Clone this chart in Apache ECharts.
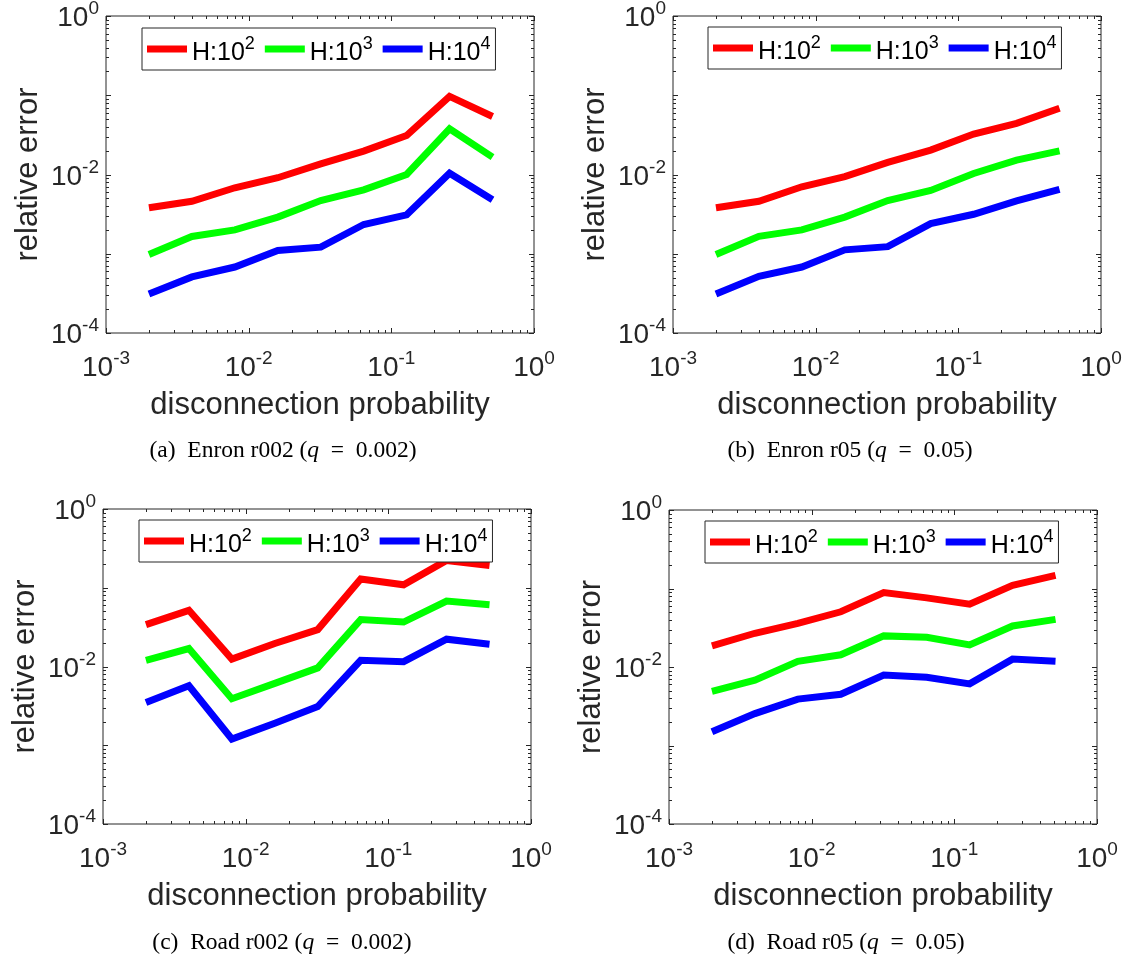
<!DOCTYPE html>
<html>
<head>
<meta charset="utf-8">
<title>relative error vs disconnection probability</title>
<script src="https://cdn.jsdelivr.net/npm/echarts@6/dist/echarts.min.js"></script>
<style>
  html, body { margin: 0; padding: 0; background: #ffffff; }
  #chart { width: 1128px; height: 962px; }
</style>
</head>
<body>
<div id="chart"></div>
<script>
// x values shared by every panel
const probability = [0.002, 0.004, 0.008, 0.016, 0.032, 0.064, 0.128, 0.256, 0.512];

const seriesNames = ['H:10^2', 'H:10^3', 'H:10^4'];
const seriesColors = ['#ff0000', '#00ff00', '#0000ff'];

// (a) Enron r002
const enronR002H2 = [0.0038, 0.0046, 0.0068, 0.0091, 0.0136, 0.0197, 0.031, 0.097, 0.054];
const enronR002H3 = [0.00098, 0.00165, 0.0020, 0.0029, 0.0047, 0.0064, 0.0100, 0.0377, 0.0166];
const enronR002H4 = [0.00031, 0.00051, 0.00068, 0.0011, 0.00121, 0.00234, 0.0031, 0.0104, 0.0048];

// (b) Enron r05
const enronR05H2 = [0.0038, 0.0046, 0.0070, 0.0094, 0.0142, 0.0203, 0.0324, 0.0443, 0.0685];
const enronR05H3 = [0.00098, 0.00166, 0.0020, 0.0029, 0.0047, 0.0063, 0.0103, 0.0152, 0.0199];
const enronR05H4 = [0.00031, 0.00052, 0.00068, 0.00112, 0.00123, 0.0024, 0.00315, 0.00465, 0.0065];

// (c) Road r002
const roadR002H2 = [0.034, 0.0517, 0.0124, 0.0196, 0.0294, 0.129, 0.109, 0.222, 0.192];
const roadR002H3 = [0.0120, 0.0169, 0.0039, 0.0061, 0.0096, 0.0394, 0.0367, 0.0678, 0.0609];
const roadR002H4 = [0.0035, 0.0057, 0.0012, 0.0019, 0.0031, 0.0120, 0.0115, 0.0222, 0.0192];

// (d) Road r05
const roadR05H2 = [0.0186, 0.0269, 0.036, 0.0505, 0.0886, 0.0759, 0.063, 0.1096, 0.1466];
const roadR05H3 = [0.0049, 0.0068, 0.0118, 0.0143, 0.0249, 0.0239, 0.0191, 0.0333, 0.0404];
const roadR05H4 = [0.0015, 0.00255, 0.0039, 0.0045, 0.0079, 0.0074, 0.0061, 0.0126, 0.0118];

const panelValues = [
  [enronR002H2, enronR002H3, enronR002H4],
  [enronR05H2, enronR05H3, enronR05H4],
  [roadR002H2, roadR002H3, roadR002H4],
  [roadR05H2, roadR05H3, roadR05H4]
];

// axis ticks and the labelled ones
const xTickValues = [0.001, 0.01, 0.1, 1];
const xLabelValues = [0.001, 0.01, 0.1, 1];
const xTickLabels = ['10^-3', '10^-2', '10^-1', '10^0'];
const yTickValues = [0.0001, 0.001, 0.01, 0.1, 1];
const yLabelValues = [0.0001, 0.01, 1];
const yTickLabels = ['10^-4', '10^-2', '10^0'];
const minorMultipliers = [2, 3, 4, 5, 6, 7, 8, 9];

const captionTags = ['(a)', '(b)', '(c)', '(d)'];
const captionNames = ['Enron r002', 'Enron r05', 'Road r002', 'Road r05'];
const captionQ = ['0.002', '0.05', '0.002', '0.05'];

// panel boxes in pixels
const layouts = [
  { left: 106, top: 16,  width: 428, height: 317, legendLeft: 142, legendTop: 28,  capX: 283, capY: 451 },
  { left: 673, top: 16,  width: 428, height: 317, legendLeft: 708, legendTop: 27,  capX: 850, capY: 451 },
  { left: 103, top: 509, width: 428, height: 315, legendLeft: 139, legendTop: 520, capX: 282, capY: 943 },
  { left: 669, top: 510, width: 428, height: 314, legendLeft: 705, legendTop: 521, capX: 846, capY: 943 }
];

const SANS = 'Liberation Sans';
const SERIF = 'Liberation Serif';
const AXIS_COLOR = '#262626';

function supRich(label) {
  const parts = label.split('^');
  return '{b|' + parts[0] + '}{s|' + parts[1] + '}';
}
function labelFor(values, labels, v) {
  for (let i = 0; i < values.length; i++) {
    if (Math.abs(Math.log10(v) - Math.log10(values[i])) < 1e-6) return supRich(labels[i]);
  }
  return '';
}
function decadeMinor(values) {
  const out = [];
  for (let i = 0; i < values.length - 1; i++) {
    minorMultipliers.forEach(m => out.push(values[i] * m));
  }
  return out;
}
const xMinorTicks = decadeMinor(xTickValues);
const yMinorTicks = decadeMinor(yTickValues);

// base text sits low in the line box, the exponent hangs from its top
const tickRich = {
  b: { fontFamily: SANS, fontSize: 28, color: AXIS_COLOR, height: 28, lineHeight: 33, verticalAlign: 'bottom' },
  s: { fontFamily: SANS, fontSize: 19, color: AXIS_COLOR, height: 19, lineHeight: 19, verticalAlign: 'top' }
};
const legendRich = {
  b: { fontFamily: SANS, fontSize: 25, color: '#000', height: 25, lineHeight: 34, verticalAlign: 'bottom' },
  s: { fontFamily: SANS, fontSize: 18, color: '#000', height: 24, lineHeight: 24, verticalAlign: 'top' }
};

const xMin = xTickValues[0], xMax = xTickValues[xTickValues.length - 1];
const yMin = yTickValues[0], yMax = yTickValues[yTickValues.length - 1];

// tick marks drawn inward on all four sides of each box
function tickData() {
  const d = [];
  xTickValues.forEach(v => d.push([v, yMin, 5, 0]));
  xMinorTicks.forEach(v => d.push([v, yMin, 3, 0]));
  yTickValues.forEach(v => d.push([xMin, v, 5, 1]));
  yMinorTicks.forEach(v => d.push([xMin, v, 3, 1]));
  return d;
}
function renderTick(params, api) {
  const len = api.value(2);
  const orient = api.value(3);
  const style = { stroke: AXIS_COLOR, lineWidth: 1 };
  if (orient === 0) {
    const v = api.value(0);
    const a = api.coord([v, yMin]);
    const b = api.coord([v, yMax]);
    const x = Math.round(a[0]) + 0.5;
    return { type: 'group', children: [
      { type: 'line', shape: { x1: x, y1: a[1], x2: x, y2: a[1] - len }, style },
      { type: 'line', shape: { x1: x, y1: b[1], x2: x, y2: b[1] + len }, style }
    ] };
  }
  const v = api.value(1);
  const a = api.coord([xMin, v]);
  const b = api.coord([xMax, v]);
  const y = Math.round(a[1]) + 0.5;
  return { type: 'group', children: [
    { type: 'line', shape: { x1: a[0], y1: y, x2: a[0] + len, y2: y }, style },
    { type: 'line', shape: { x1: b[0], y1: y, x2: b[0] - len, y2: y }, style }
  ] };
}

const grid = [], xAxis = [], yAxis = [], series = [], legend = [], graphic = [];

layouts.forEach((L, p) => {
  grid.push({
    left: L.left, top: L.top, width: L.width, height: L.height,
    show: true, borderColor: AXIS_COLOR, borderWidth: 1, backgroundColor: 'transparent',
    containLabel: false, outerBoundsMode: 'none'
  });
  xAxis.push({
    type: 'log', logBase: 10, gridIndex: p, min: xMin, max: xMax, splitNumber: 3,
    axisLine: { show: false }, axisTick: { show: false }, splitLine: { show: false },
    axisLabel: {
      show: true, margin: 16, showMinLabel: true, showMaxLabel: true,
      formatter: v => labelFor(xLabelValues, xTickLabels, v), rich: tickRich
    },
    name: 'disconnection probability', nameLocation: 'middle', nameGap: 57,
    nameTextStyle: { fontFamily: SANS, fontSize: 31, color: AXIS_COLOR }
  });
  yAxis.push({
    type: 'log', logBase: 10, gridIndex: p, min: yMin, max: yMax, splitNumber: 4,
    axisLine: { show: false }, axisTick: { show: false }, splitLine: { show: false },
    axisLabel: {
      show: true, margin: 7, showMinLabel: true, showMaxLabel: true,
      formatter: v => labelFor(yLabelValues, yTickLabels, v), rich: tickRich
    },
    name: 'relative error', nameLocation: 'middle', nameGap: 62, nameRotate: 90,
    nameTextStyle: { fontFamily: SANS, fontSize: 31, color: AXIS_COLOR }
  });
  panelValues[p].forEach((vals, k) => {
    series.push({
      type: 'line', name: seriesNames[k], xAxisIndex: p, yAxisIndex: p,
      data: probability.map((x, i) => [x, vals[i]]),
      showSymbol: false, symbol: 'none', animation: false,
      color: seriesColors[k],
      lineStyle: { color: seriesColors[k], width: 7, join: 'miter', cap: 'butt' },
      z: 2
    });
  });
  series.push({
    type: 'custom', xAxisIndex: p, yAxisIndex: p, silent: true, clip: false,
    encode: { x: 0, y: 1 }, data: tickData(), renderItem: renderTick, z: 3, animation: false
  });
  legend.push({
    left: L.legendLeft, top: L.legendTop, orient: 'horizontal',
    data: seriesNames, icon: 'rect', itemWidth: 40, itemHeight: 7, itemGap: 10,
    padding: [4, 5, 4, 5], borderColor: AXIS_COLOR, borderWidth: 1, backgroundColor: '#ffffff',
    selectedMode: false, z: 10,
    formatter: name => supRich(name),
    textStyle: { rich: legendRich }
  });
  graphic.push({
    type: 'text', x: L.capX, y: L.capY, z: 10,
    style: {
      text: captionTags[p] + '\u2002' + captionNames[p] + ' ({i|q}\u2002=\u2002' + captionQ[p] + ')',
      align: 'center', verticalAlign: 'middle',
      fontFamily: SERIF, fontSize: 23.5, fill: '#000',
      rich: { i: { fontFamily: SERIF, fontSize: 23.5, fontStyle: 'italic', fill: '#000' } }
    }
  });
});

const chart = echarts.init(document.getElementById('chart'), null, { renderer: 'canvas' });
chart.setOption({
  animation: false,
  backgroundColor: '#ffffff',
  textStyle: { fontFamily: SANS },
  grid, xAxis, yAxis, series, legend, graphic
});
</script>
</body>
</html>
